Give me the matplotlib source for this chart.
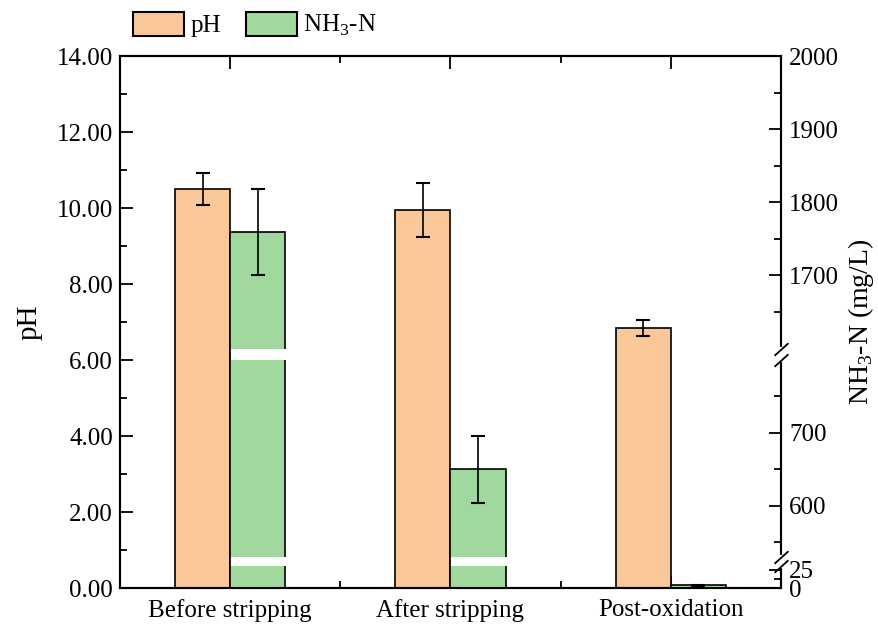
import matplotlib
matplotlib.use("Agg")
import matplotlib.pyplot as plt
from matplotlib.patches import Patch
from matplotlib.ticker import FixedLocator, FixedFormatter
import numpy as np

plt.rcParams['font.family'] = ['Liberation Serif', 'DejaVu Serif']
plt.rcParams['mathtext.fontset'] = 'custom'
plt.rcParams['mathtext.rm'] = 'Liberation Serif'
plt.rcParams['font.size'] = 18

# data
stages = ['Before stripping', 'After stripping', 'Post-oxidation']
ph_mean = [10.51, 9.95, 6.85]
ph_err = [0.42, 0.70, 0.21]
nh3_mean = [1759, 650, 3.5]
nh3_err = [59, 46, 0.5]

# broken right axis: value anchors -> position on the 0-14 pH scale
nh3_anchor = [-1e4, 0, 30, 530, 800, 1600, 2000, 1e5]
nh3_pos = [-192.5, 0, 0.577, 0.815, 6.011, 6.301, 14.0, 1901.5]
nh3_gaps = [(30, 530), (800, 1600)]
nh3_major = [0, 25, 600, 700, 1700, 1800, 1900, 2000]
nh3_minor = [12.5, 550, 650, 750, 1650, 1750, 1850, 1950]

orange = '#FAC898'
green = '#A0D89E'


def fwd(v):
    return np.interp(v, nh3_anchor, nh3_pos)


def inv(p):
    return np.interp(p, nh3_pos, nh3_anchor)


fig = plt.figure(figsize=(8.79, 6.26), dpi=100)
ax1 = fig.add_axes([0.1365, 0.0607, 0.752, 0.8498])
ax2 = ax1.twinx()

x = np.arange(len(stages))
w = 0.25

ax1.bar(x - w / 2, ph_mean, w, color=orange, edgecolor='black', linewidth=1.2, zorder=2)
ax1.errorbar(x - w / 2, ph_mean, yerr=ph_err, fmt='none', ecolor='black',
             elinewidth=1.2, capsize=5, capthick=1.5, zorder=3)

ax2.set_yscale('function', functions=(fwd, inv))
ax2.bar(x + w / 2, nh3_mean, w, color=green, edgecolor='black', linewidth=1.2, zorder=2)
ax2.errorbar(x + w / 2, nh3_mean, yerr=nh3_err, fmt='none', ecolor='black',
             elinewidth=1.2, capsize=5, capthick=1.5, zorder=3)

# white bands across the green bars where the axis is broken
for lo, hi in nh3_gaps:
    for xi, v in zip(x, nh3_mean):
        if v > hi:
            ax2.bar(xi + 0.004, hi - lo, w + 0.004, bottom=lo, align='edge',
                    color='white', linewidth=0, zorder=2.5)

ax1.set_xlim(-0.5, 2.5)
ax1.set_ylim(0, 14)
ax2.set_ylim(0, 2000)

ax1.set_xticks(x)
ax1.set_xticklabels(stages)
ax1.set_xticks([0.5, 1.5], minor=True)
ax1.set_yticks(np.arange(0, 15, 2))
ax1.set_yticklabels([f'{t:.2f}' for t in np.arange(0, 15, 2)])
ax1.set_yticks(np.arange(1, 14, 2), minor=True)
ax1.tick_params(which='both', direction='in', top=True, width=1.3, pad=5)
ax1.tick_params(which='major', length=9)
ax1.tick_params(which='minor', length=5)
ax1.tick_params(axis='x', which='major', pad=8)

ax2.yaxis.set_major_locator(FixedLocator(nh3_major))
ax2.yaxis.set_major_formatter(FixedFormatter([str(t) for t in nh3_major]))
ax2.yaxis.set_minor_locator(FixedLocator(nh3_minor))
ax2.tick_params(which='both', direction='in', width=1.3, pad=6)
ax2.tick_params(which='major', length=9)
ax2.tick_params(which='minor', length=5)

for ax in (ax1, ax2):
    for s in ax.spines.values():
        s.set_linewidth(1.5)

ax1.set_ylabel('pH', fontsize=21, labelpad=10)
ax2.set_ylabel(r'NH$_\mathregular{3}$-N (mg/L)', fontsize=20, labelpad=5)

# break marks on the right spine
ytr = ax2.get_yaxis_transform()
for lo, hi in nh3_gaps:
    ax2.plot([1, 1], [lo, hi], transform=ytr, color='white', linewidth=3,
             clip_on=False, zorder=5)
    ax2.plot([1, 1], [lo, hi], transform=ytr, linestyle='none',
             marker=[(-1, -0.9), (1, 0.9)], markersize=10, markeredgewidth=1.3,
             color='black', clip_on=False, zorder=6)

handles = [Patch(facecolor=orange, edgecolor='black', linewidth=1.5, label='pH'),
           Patch(facecolor=green, edgecolor='black', linewidth=1.5,
                 label=r'NH$_\mathregular{3}$-N')]
fig.legend(handles=handles, loc='center left', bbox_to_anchor=(0.151, 0.96),
           ncol=2, frameon=False, borderpad=0, borderaxespad=0, handlelength=2.05,
           handleheight=1.1, handletextpad=0.25, columnspacing=1.0, fontsize=18)

fig.savefig('out.png', dpi=100)
